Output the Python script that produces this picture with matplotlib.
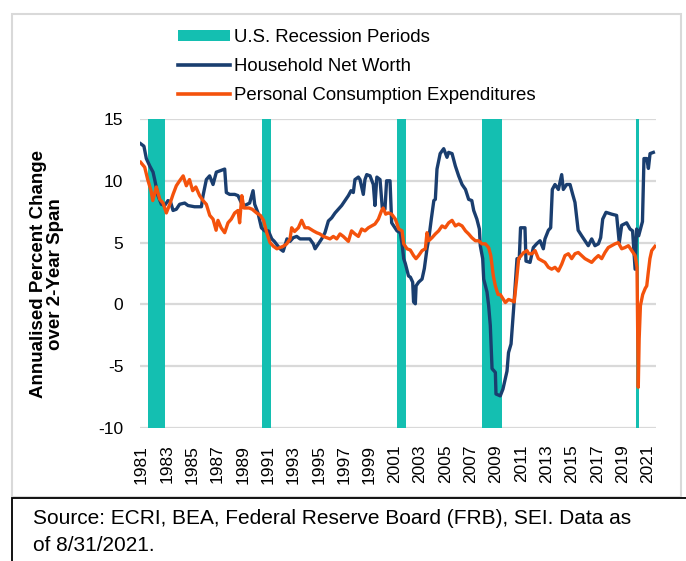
import numpy as np
import matplotlib
matplotlib.use("Agg")
import matplotlib.pyplot as plt
from matplotlib.patches import Rectangle, Patch
from matplotlib.lines import Line2D

plt.rcParams['font.family'] = ['Liberation Sans', 'DejaVu Sans']
plt.rcParams['axes.unicode_minus'] = False

# recession periods (decimal years)
rec_start = [1981.5, 1990.5, 2001.17, 2007.92, 2020.1]
rec_end = [1982.9, 1991.2, 2001.88, 2009.46, 2020.28]

# household net worth, annualised % change over 2-year span
nw_years = [1980.94, 1981.2, 1981.39, 1981.66, 1981.92, 1982.05, 1982.31, 1982.58, 1982.84, 1983.1,
            1983.3, 1983.5, 1983.76, 1984.02, 1984.42, 1984.68, 1985.2, 1985.74, 1985.87, 1986.13,
            1986.39, 1986.66, 1986.92, 1987.18, 1987.58, 1987.71, 1987.97, 1988.37, 1988.63, 1988.9,
            1989.16, 1989.55, 1989.82, 1989.95, 1990.21, 1990.48, 1990.74, 1991.03, 1991.3, 1991.5,
            1991.95, 1992.2, 1992.5, 1992.74, 1993.0, 1993.27, 1993.53, 1993.9, 1994.3, 1994.58,
            1994.72, 1994.98, 1995.24, 1995.5, 1995.77, 1996.03, 1996.3, 1996.56, 1996.82, 1997.08,
            1997.35, 1997.56, 1997.74, 1997.87, 1998.14, 1998.27, 1998.53, 1998.66, 1998.8, 1999.06,
            1999.32, 1999.45, 1999.6, 1999.85, 2000.03, 2000.24, 2000.37, 2000.64, 2000.77, 2001.03,
            2001.19, 2001.45, 2001.59, 2001.72, 2001.85, 2002.1, 2002.25, 2002.43, 2002.5, 2002.64,
            2002.7, 2002.9, 2003.17, 2003.35, 2003.56, 2003.7, 2003.9, 2004.1, 2004.22, 2004.35,
            2004.6, 2004.88, 2005.14, 2005.27, 2005.54, 2005.8, 2006.06, 2006.33, 2006.6, 2006.85,
            2007.1, 2007.25, 2007.5, 2007.7, 2007.77, 2007.96, 2008.04, 2008.3, 2008.43, 2008.56,
            2008.7, 2008.96, 2009.01, 2009.35, 2009.56, 2009.75, 2009.88, 2010.0, 2010.2, 2010.4,
            2010.67, 2010.85, 2010.95, 2011.3, 2011.38, 2011.7, 2011.96, 2012.22, 2012.49, 2012.75,
            2012.88, 2013.15, 2013.33, 2013.46, 2013.67, 2013.94, 2014.2, 2014.33, 2014.59, 2014.86,
            2015.07, 2015.25, 2015.5, 2015.78, 2016.04, 2016.3, 2016.57, 2016.83, 2017.1, 2017.28,
            2017.44, 2017.7, 2018.15, 2018.54, 2018.75, 2018.94, 2019.33, 2019.6, 2019.8, 2020.0,
            2020.12, 2020.28, 2020.58, 2020.7, 2020.92, 2021.05, 2021.18, 2021.44]
nw_vals = [13.0, 12.8, 11.8, 11.2, 10.7, 10.1, 8.8, 8.1, 8.0, 8.4,
           8.3, 7.6, 7.7, 8.1, 8.2, 8.0, 7.9, 7.9, 8.8, 10.1,
           10.4, 9.7, 10.7, 10.8, 10.95, 9.05, 8.9, 8.9, 8.8, 8.2,
           8.0, 8.2, 9.2, 8.1, 7.4, 6.2, 5.95, 5.95, 5.3, 5.1,
           4.5, 4.3, 5.3, 5.1, 5.4, 5.5, 5.3, 5.3, 5.3, 4.9,
           4.5, 4.9, 5.3, 5.8, 6.75, 7.0, 7.4, 7.7, 8.0, 8.4,
           8.8, 9.2, 9.05, 10.1, 10.3, 10.1, 8.9, 10.1, 10.5, 10.4,
           9.7, 8.0, 10.3, 10.1, 7.8, 7.7, 10.0, 10.0, 6.6, 6.2,
           5.95, 5.8, 4.9, 3.7, 3.3, 2.3, 2.2, 1.8, 0.2, 0.05,
           1.5, 1.8, 2.05, 2.9, 4.5, 5.3, 6.9, 8.4, 8.5, 10.95,
           12.2, 12.6, 11.9, 12.3, 12.2, 11.2, 10.4, 9.7, 9.3, 8.5,
           8.4, 7.6, 6.9, 6.1, 4.75, 3.7, 2.05, 1.0, -0.1, -1.7,
           -5.2, -5.5, -7.25, -7.4, -6.85, -6.0, -5.4, -3.9, -3.2, -0.4,
           3.7, 3.7, 6.2, 6.2, 3.5, 3.4, 4.6, 4.9, 5.15, 4.5,
           5.3, 6.0, 6.2, 9.3, 9.7, 9.3, 10.5, 9.3, 9.7, 9.7,
           8.9, 8.25, 6.0, 5.55, 5.15, 4.75, 5.3, 4.75, 4.9, 5.4,
           6.9, 7.45, 7.3, 7.2, 5.0, 6.4, 6.6, 6.1, 5.95, 2.85,
           6.1, 5.55, 6.7, 11.8, 11.8, 11.0, 12.2, 12.3]

# personal consumption expenditures, annualised % change over 2-year span
pce_years = [1980.94, 1981.26, 1981.5, 1981.76, 1981.9, 1982.18, 1982.45, 1982.71, 1982.97, 1983.24,
             1983.5, 1983.76, 1984.02, 1984.3, 1984.55, 1984.8, 1985.05, 1985.3, 1985.6, 1985.87,
             1986.13, 1986.4, 1986.66, 1986.9, 1987.05, 1987.3, 1987.58, 1987.84, 1988.1, 1988.37,
             1988.63, 1988.76, 1988.93, 1989.1, 1989.5, 1989.75, 1990.1, 1990.4, 1990.65, 1990.9,
             1991.16, 1991.43, 1991.7, 1991.95, 1992.2, 1992.48, 1992.74, 1992.87, 1993.1, 1993.4,
             1993.66, 1993.92, 1994.19, 1994.58, 1994.85, 1995.1, 1995.37, 1995.64, 1995.9, 1996.16,
             1996.43, 1996.69, 1996.95, 1997.35, 1997.6, 1997.87, 1998.14, 1998.4, 1998.66, 1998.93,
             1999.19, 1999.45, 1999.72, 1999.98, 2000.1, 2000.3, 2000.5, 2000.77, 2001.06, 2001.33,
             2001.59, 2001.72, 2001.98, 2002.24, 2002.5, 2002.69, 2002.9, 2003.17, 2003.43, 2003.56,
             2003.7, 2003.96, 2004.22, 2004.48, 2004.75, 2005.0, 2005.27, 2005.54, 2005.8, 2006.06,
             2006.33, 2006.6, 2006.85, 2007.1, 2007.38, 2007.64, 2007.9, 2008.17, 2008.43, 2008.6,
             2008.8, 2008.96, 2009.17, 2009.35, 2009.6, 2009.75, 2010.0, 2010.27, 2010.45, 2010.64,
             2010.8, 2011.0, 2011.2, 2011.46, 2011.6, 2011.85, 2012.1, 2012.36, 2012.62, 2012.88,
             2013.15, 2013.41, 2013.67, 2013.94, 2014.2, 2014.46, 2014.73, 2014.99, 2015.25, 2015.51,
             2015.78, 2016.04, 2016.3, 2016.57, 2016.83, 2017.1, 2017.36, 2017.62, 2017.88, 2018.15,
             2018.41, 2018.67, 2018.94, 2019.2, 2019.47, 2019.73, 2020.0, 2020.15, 2020.25, 2020.32,
             2020.42, 2020.6, 2020.8, 2020.92, 2021.04, 2021.17, 2021.31, 2021.57]
pce_vals = [11.5, 11.1, 10.1, 9.2, 8.4, 9.5, 8.5, 8.2, 7.4, 8.1,
            8.9, 9.6, 10.0, 10.4, 9.6, 10.1, 9.2, 9.5, 8.8, 8.4,
            8.1, 7.2, 6.9, 6.0, 6.8, 6.2, 5.8, 6.6, 6.9, 7.4,
            7.6, 6.6, 8.8, 7.8, 7.8, 7.7, 7.4, 7.2, 6.8, 5.8,
            5.0, 4.7, 4.5, 4.6, 4.7, 4.9, 5.3, 6.2, 5.9, 6.2,
            6.8, 6.2, 6.2, 5.95, 5.8, 5.7, 5.5, 5.4, 5.3, 5.5,
            5.3, 5.7, 5.5, 5.1, 5.95, 5.7, 5.5, 6.1, 5.95, 6.2,
            6.35, 6.5, 6.9, 7.6, 7.8, 7.3, 7.4, 7.3, 6.9, 6.1,
            5.95, 4.9, 4.5, 4.4, 3.95, 3.7, 3.95, 4.35, 4.5, 5.8,
            5.15, 5.4, 5.7, 5.95, 6.35, 6.2, 6.6, 6.8, 6.35, 6.5,
            6.35, 5.95, 5.7, 5.4, 5.15, 5.15, 4.9, 4.9, 4.6, 3.95,
            2.3, 1.5, 0.8, 0.8, 0.4, 0.15, 0.4, 0.3, 0.2, 2.0,
            3.7, 3.95, 4.2, 4.35, 4.1, 4.1, 4.35, 3.7, 3.55, 3.4,
            3.0, 2.85, 3.0, 2.7, 3.25, 3.95, 4.1, 3.7, 4.1, 4.2,
            3.95, 3.7, 3.55, 3.4, 3.7, 3.95, 3.7, 4.2, 4.6, 4.75,
            4.9, 5.0, 4.5, 4.6, 4.75, 4.35, 3.95, 3.0, -6.7, -2.8,
            -0.1, 0.8, 1.3, 1.5, 2.6, 3.7, 4.35, 4.7]

tick_years = list(range(1981, 2022, 2))
y_ticks = [-10, -5, 0, 5, 10, 15]

teal = '#14BFB1'
navy = '#1A3E6F'
orange = '#F4520C'

fig = plt.figure(figsize=(6.86, 5.61), dpi=100)
W, H = 686, 561

# outer grey frame and source box
fig.patches.append(Rectangle((12 / W, 1 - 497 / H), 669 / W, 483 / H, transform=fig.transFigure,
                             fill=False, edgecolor='#D9D9D9', linewidth=1.5))
fig.patches.append(Rectangle((12 / W, -0.05), 0.99, (561 - 498) / H + 0.05, transform=fig.transFigure,
                             fill=False, edgecolor='black', linewidth=1.3))

ax = fig.add_axes([140 / W, 1 - 428 / H, 516 / W, 309 / H])

for s, e in zip(rec_start, rec_end):
    ax.axvspan(s, e, color=teal, linewidth=0, zorder=1)

ax.plot(nw_years, nw_vals, color=navy, linewidth=2.4, zorder=3, solid_joinstyle='round')
ax.plot(pce_years, pce_vals, color=orange, linewidth=2.4, zorder=4, solid_joinstyle='round')

ax.set_xlim(1980.89, 2021.65)
ax.set_ylim(-10, 15)
ax.set_yticks(y_ticks)
ax.set_xticks(tick_years)
ax.set_xticklabels([str(y) for y in tick_years], rotation=90)
ax.yaxis.grid(True, color='#D9D9D9', linewidth=1.6, zorder=0)
ax.set_axisbelow(True)
for sp in ax.spines.values():
    sp.set_visible(False)
ax.tick_params(axis='both', length=0, labelsize=12.5, colors='black')
ax.tick_params(axis='y', pad=12)
ax.tick_params(axis='x', pad=12)

fig.text(47 / W, 1 - 274 / H, 'Annualised Percent Change\nover 2-Year Span', rotation=90,
         ha='center', va='center', fontsize=13.5, fontweight='bold', linespacing=1.05)

handles = [Patch(facecolor=teal, edgecolor='none'),
           Line2D([0], [0], color=navy, linewidth=2.6),
           Line2D([0], [0], color=orange, linewidth=2.6)]
labels = ['U.S. Recession Periods', 'Household Net Worth', 'Personal Consumption Expenditures']
fig.legend(handles, labels, loc='upper left', bbox_to_anchor=(178 / W, 1 - 29 / H), frameon=False,
           fontsize=13.4, handlelength=2.8, handleheight=0.6, handletextpad=0.2, labelspacing=0.65,
           borderpad=0, borderaxespad=0)

fig.text(33 / W, 1 - 524 / H, 'Source: ECRI, BEA, Federal Reserve Board (FRB), SEI. Data as',
         ha='left', va='baseline', fontsize=15)
fig.text(33 / W, 1 - 551 / H, 'of 8/31/2021.', ha='left', va='baseline', fontsize=15)

fig.savefig('out.png', dpi=100)
